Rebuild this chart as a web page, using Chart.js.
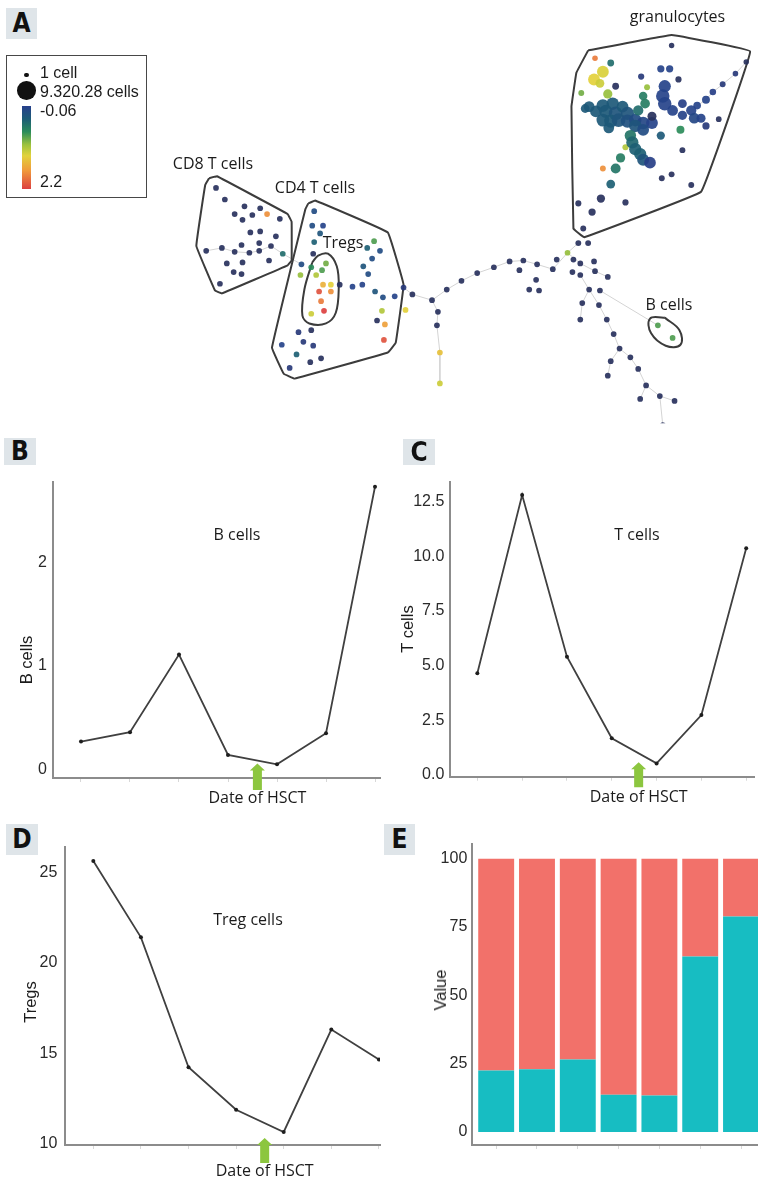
<!DOCTYPE html>
<html>
<head>
<meta charset="utf-8">
<script src="https://cdn.jsdelivr.net/npm/chart.js@4.4.1/dist/chart.umd.min.js"></script>
<style>
  html, body { margin: 0; padding: 0; background: #fff; overflow: hidden; }
  body { width: 758px; height: 1183px; position: relative; }
  canvas { position: absolute; }
  .t { position: absolute; white-space: nowrap; font-family: "Open Sans", sans-serif; font-size: 16px; line-height: 20px; color: #1b1b1b; }
  .ar { font-family: "Liberation Sans", Arial, sans-serif; }
  .tag { position: absolute; background: #dfe5e9; color: #111; text-align: center;
         font-family: "DejaVu Sans Condensed", "DejaVu Sans", sans-serif; font-stretch: condensed; font-weight: bold; font-size: 26px; }
  #legend { position: absolute; left: 6px; top: 55px; width: 139px; height: 141px; border: 1.5px solid #474747; }
  .dot { position: absolute; border-radius: 50%; background: #111; }
</style>
</head>
<body>
<canvas id="tree" width="758" height="430" style="left:0;top:0"></canvas>
<canvas id="bChart" width="385" height="345" style="left:0;top:466px"></canvas>
<canvas id="tChart" width="378" height="345" style="left:380px;top:466px"></canvas>
<canvas id="tregChart" width="385" height="353" style="left:0;top:830px"></canvas>
<canvas id="shareChart" width="386" height="330" style="left:380px;top:830px"></canvas>
<div id="legend"></div>

<script>
// ---- panels B-D: seven sampling visits, transplant between visit 4 and 5
const visits = [1, 2, 3, 4, 5, 6, 7];
const hsctVisit = 4.6;
const bCells = [0.27, 0.36, 1.11, 0.14, 0.05, 0.35, 2.73];
const tCells = [4.65, 12.8, 5.41, 1.68, 0.53, 2.74, 10.37];
const tregs = [25.65, 21.42, 14.22, 11.86, 10.63, 16.31, 14.65];
const bTicks = [0, 1, 2];
const tTicks = [0, 2.5, 5, 7.5, 10, 12.5];
const tregTicks = [10, 15, 20, 25];

// ---- panel E: stacked shares per sample
const samples = [1, 2, 3, 4, 5, 6, 7];
const tealShare = [22.5, 22.9, 26.5, 13.6, 13.3, 64.2, 78.9];
const redShare = [77.5, 77.1, 73.5, 86.4, 86.7, 35.8, 21.1];
const valueTicks = [0, 25, 50, 75, 100];

// ---- panel A: SPADE tree nodes [layout x, layout y, expression, cells]
const cd8Nodes = [
  [213,187,0,40],[222,199,0,40],[242,206,0,40],[258,208,0,40],[265,214,1.8,40],[232,214,0,40],
  [250,215,0,40],[278,219,0,40],[240,220,0,40],[248,233,0,40],[258,232,0,40],[274,237,0,40],
  [239,246,0,40],[257,244,0,40],[203,252,0,40],[219,249,0,40],[232,253,0,40],[247,254,0,40],
  [257,252,0,40],[269,247,0,40],[281,255,0.6,40],[267,262,0,40],[224,265,0,40],[240,264,0,40],
  [231,274,0,40],[239,276,0,40],[217,286,0,40]
];
const cd4Nodes = [
  [313,211,0.3,40],[311,226,0.3,40],[322,226,0.2,40],[313,243,0.5,40],[319,234,0.4,40],[312,255,0,40],
  [300,266,0.3,40],[310,269,0.8,40],[321,272,0.9,40],[325,265,1.0,40],[315,277,1.2,40],[322,287,1.6,40],
  [330,287,1.4,40],[318,294,2.1,40],[330,294,1.8,40],[320,304,1.9,40],[323,314,2.2,40],[310,317,1.3,40],
  [299,277,1.1,40],[339,287,0,40],[352,289,0.2,40],[362,287,0.2,40],[374,242,0.9,40],[367,249,0.5,40],
  [380,252,0.3,40],[372,260,0.3,40],[363,268,0.4,40],[368,276,0.3,40],[375,294,0.4,40],[383,300,0.3,40],
  [395,299,0.2,40],[404,290,0.1,40],[413,297,0,40],[406,313,1.4,40],[382,314,1.2,40],[377,324,0,40],
  [385,328,1.7,40],[384,344,2.1,40],[310,334,0,40],[297,336,0.1,40],[302,346,0.1,40],[280,349,0.2,40],
  [312,350,0.1,40],[295,359,0.5,40],[309,367,0,40],[320,363,0,40],[288,373,0.1,40]
];
const granNodes = [
  [677,40,0,20],[753,57,0,20],[742,69,0.1,30],[729,80,0.1,60],[719,88,0.15,150],[712,96,0.2,500],
  [703,102,0.2,400],[599,53,1.9,30],[615,58,0.6,200],[620,82,0,200],[585,89,1.0,60],[589,105,0.45,800],
  [646,72,0.1,100],[666,64,0.2,300],[675,64,0.2,300],[684,75,0,100],[652,83,1.1,60],[648,92,0.7,700],
  [725,116,0,40],[712,123,0.1,300],[686,127,0.8,500],[666,133,0.45,600],[688,148,0,60],
  [630,145,1.2,80],[607,167,1.8,60],[615,183,0.5,800],[605,198,0,600],[630,202,0,100],[582,203,0,80],
  [596,212,0,300],[587,229,0,60],[667,177,0,60],[677,173,0,60],[697,184,0,60],[582,244,0,60],[592,244,0,60],
  [607,67,1.35,2500],[598,75,1.4,2500],[604,79,1.3,800],[612,90,1.1,1000],
  [670,82,0.2,2800],[668,92,0.2,3800],[670,100,0.2,3800],[678,107,0.2,1800],[688,100,0.15,800],
  [697,107,0.2,1500],[688,112,0.2,1000],[700,115,0.25,1800],[707,115,0.2,900],
  [607,102,0.45,3200],[617,100,0.45,3000],[610,108,0.45,3500],[620,110,0.4,4000],[627,103,0.45,2500],
  [632,110,0.4,3500],[607,117,0.45,3200],[615,118,0.45,3600],[623,117,0.4,4000],[632,118,0.35,3500],
  [640,117,0.3,3000],[648,120,0.25,3000],[657,120,0.2,2500],[640,123,0.4,3000],[648,127,0.3,2500],
  [600,108,0.45,2500],[593,103,0.45,1800],[613,125,0.45,1800],[643,107,0.6,1500],[650,100,0.7,1200],
  [657,113,0,900],[635,133,0.65,2200],[637,140,0.55,2800],[640,147,0.5,2800],[645,152,0.5,2800],
  [648,158,0.4,2600],[655,161,0.15,2400],[625,156,0.7,1000],[620,167,0.65,1300]
];
const branchNodes = [
  [571,254,1.1,40],[560,261,0,40],[577,261,0,40],[584,265,0,40],[598,263,0,40],[526,262,0,40],
  [512,263,0,40],[540,266,0,40],[522,272,0,40],[556,271,0,40],[576,274,0,40],[584,277,0,40],
  [599,273,0,40],[612,279,0,40],[539,282,0,40],[532,292,0,40],[542,293,0,40],[496,269,0,40],
  [479,275,0,40],[463,283,0,40],[448,292,0,40],[433,303,0,40],[439,315,0,40],[438,329,0,40],
  [441,357,1.5,40],[441,389,1.3,40],[593,292,0,40],[604,293,0,40],[586,306,0,40],[603,308,0,40],
  [584,323,0,40],[611,323,0,40],[618,338,0,40],[624,353,0,40],[635,362,0,40],[615,366,0,40],
  [643,374,0,40],[612,381,0,40],[651,391,0,40],[645,405,0,40],[665,402,0,40],[680,407,0,40],
  [668,432,0,40]
];
const bCellNodes = [[663,329,0.9,40],[678,342,0.9,40]];

// cluster outlines and tree edges, same layout units
const cd8Outline = [[206,177],[214,175],[286,214],[290,222],[290,262],[286,267],[219,296],[212,293],[193,247],[202,184],[206,177]];
const cd4Outline = [[307,203],[314,200],[388,233],[404,287],[396,347],[388,357],[293,384],[282,379],[270,352],[304,209],[307,203]];
const tregOutline = [[311,264],[317,257],[327,255],[336,268],[338,290],[335,316],[325,327],[308,327],[301,319],[303,292],[311,264]];
const granOutline = [[592,45],[677,29],[757,46],[707,191],[588,238],[577,229],[575,103],[580,68],[592,45]];
const bOutline = [[670,321],[685,334],[686,349],[671,350],[656,337],[655,322],[670,321]];
const treeEdges = [
  [[404,290],[413,297],[433,303],[448,292],[463,283],[479,275],[496,269],[512,263],[526,262],[540,266],[556,271],[571,254],[582,244]],
  [[433,303],[439,315],[438,329],[441,357],[441,389]],
  [[571,254],[584,265],[599,273],[612,279]],
  [[584,277],[593,292],[603,308],[611,323],[618,338],[624,353],[635,362],[643,374],[651,391],[665,402],[668,432]],
  [[604,293],[663,329]],
  [[593,292],[586,306],[584,323]],
  [[624,353],[615,366],[612,381]],
  [[651,391],[645,405]],
  [[665,402],[680,407]],
  [[703,102],[712,96],[719,88],[729,80],[742,69],[753,57]],
  [[203,252],[219,249],[232,253],[247,254],[257,252],[269,247],[281,255],[300,266]]
];

const exprRange = [-0.06, 2.2];
const maxCells = 9320.28;
const exprStops = [[0,'#292c4c'],[0.1,'#27408c'],[0.24,'#1c5c76'],[0.38,'#2b8c5a'],[0.52,'#9cc23c'],[0.64,'#e2d23b'],[0.8,'#f09a3c'],[1,'#dc4040']];

function hex(c) { return [1, 3, 5].map(i => parseInt(c.slice(i, i + 2), 16)); }
function exprColor(v) {
  const f = Math.max(0, Math.min(1, (v - exprRange[0]) / (exprRange[1] - exprRange[0])));
  for (let i = 1; i < exprStops.length; i++) {
    if (f <= exprStops[i][0]) {
      const [f0, c0] = exprStops[i - 1], [f1, c1] = exprStops[i];
      const k = (f - f0) / (f1 - f0), a = hex(c0), b = hex(c1);
      return 'rgba(' + a.map((x, j) => Math.round(x + (b[j] - x) * k)).join(',') + ',0.92)';
    }
  }
  return exprStops[exprStops.length - 1][1];
}
function nodeRadius(cells) { return 2.4 + 6.8 * Math.sqrt(cells / maxCells); }

const axisFamily = '"Liberation Sans", Arial, sans-serif';
Chart.defaults.font.family = axisFamily;
Chart.defaults.color = '#2a2a2a';

// ---- panel A
const allNodes = [...cd8Nodes, ...cd4Nodes, ...granNodes, ...branchNodes, ...bCellNodes];
const pts = arr => arr.map(p => ({ x: p[0], y: p[1] }));
const outlines = [
  { pts: cd8Outline, tension: 0.05 }, { pts: cd4Outline, tension: 0.05 }, { pts: tregOutline, tension: 0.35 },
  { pts: granOutline, tension: 0.04 }, { pts: bOutline, tension: 0.4 }
];

new Chart(document.getElementById('tree'), {
  type: 'scatter',
  data: {
    datasets: [
      {
        data: pts(allNodes),
        pointRadius: allNodes.map(n => nodeRadius(n[3])),
        pointBackgroundColor: allNodes.map(n => exprColor(n[2])),
        pointBorderWidth: 0,
        order: 0
      },
      ...outlines.map(o => ({
        data: pts(o.pts), showLine: true, borderColor: '#3c3c3c', borderWidth: 2,
        pointRadius: 0, tension: o.tension, order: 1
      })),
      ...treeEdges.map(e => ({
        data: pts(e), showLine: true, borderColor: '#d4d4d4', borderWidth: 1, pointRadius: 0, order: 2
      }))
    ]
  },
  options: {
    responsive: false, animation: false, events: [],
    layout: { padding: 0 },
    plugins: { legend: { display: false }, tooltip: { enabled: false } },
    scales: {
      x: { type: 'linear', min: 0, max: 758, display: false },
      y: { type: 'linear', min: 0, max: 430, reverse: true, display: false }
    }
  }
});

// ---- transplant marker for B-D
const hsctMarker = {
  id: 'hsct',
  afterDraw(chart, args, o) {
    const { ctx, chartArea } = chart;
    const x = chart.scales.x.getPixelForValue(hsctVisit);
    const y0 = chartArea.bottom + o.top, y1 = chartArea.bottom + o.bottom;
    ctx.save();
    ctx.fillStyle = '#8cc63f';
    ctx.beginPath();
    ctx.moveTo(x, y0);
    ctx.lineTo(x + 7.5, y0 + 7);
    ctx.lineTo(x + 4.5, y0 + 7);
    ctx.lineTo(x + 4.5, y1);
    ctx.lineTo(x - 4.5, y1);
    ctx.lineTo(x - 4.5, y0 + 7);
    ctx.lineTo(x - 7.5, y0 + 7);
    ctx.closePath();
    ctx.fill();
    ctx.font = '16px "Open Sans"';
    ctx.fillStyle = '#1b1b1b';
    ctx.textAlign = 'center';
    ctx.textBaseline = 'middle';
    ctx.fillText('Date of HSCT', x, chartArea.bottom + o.text);
    ctx.restore();
  }
};

function lineChart(id, values, xr, yr, ticks, fmt, geo) {
  return new Chart(document.getElementById(id), {
    type: 'line',
    data: {
      datasets: [{
        data: visits.map((v, i) => ({ x: v, y: values[i] })),
        borderColor: '#404040', borderWidth: 1.8, tension: 0,
        pointRadius: 2, pointBackgroundColor: '#1e1e1e', pointBorderWidth: 0
      }]
    },
    options: {
      responsive: false, animation: false, events: [],
      layout: { padding: { top: geo.top, right: geo.right, left: 0, bottom: 0 } },
      plugins: { legend: { display: false }, tooltip: { enabled: false }, hsct: geo.hsct },
      scales: {
        x: {
          type: 'linear', min: xr[0], max: xr[1], offset: false,
          afterBuildTicks: s => { s.ticks = visits.map(v => ({ value: v })); },
          afterFit: s => { s.height = geo.xh; },
          ticks: { display: false },
          grid: { display: true, offset: false, drawOnChartArea: false, tickLength: 4, color: '#d8d8d8' },
          border: { display: true, color: '#8c8c8c', width: 2 }
        },
        y: {
          type: 'linear', min: yr[0], max: yr[1],
          afterBuildTicks: s => { s.ticks = ticks.map(v => ({ value: v })); },
          afterFit: s => { s.width = geo.yw; },
          ticks: { padding: geo.pad, color: '#2a2a2a', font: { size: 16 }, callback: fmt },
          grid: { display: false, drawTicks: false },
          border: { display: true, color: '#8c8c8c', width: 2 }
        }
      }
    },
    plugins: [hsctMarker]
  });
}

lineChart('bChart', bCells, [0.4286, 7.102], [-0.082, 2.78], bTicks, v => String(v),
  { top: 10, right: 5, xh: 33, yw: 53, pad: 6, hsct: { top: -14.5, bottom: 12, text: 20.5 } });
lineChart('tChart', tCells, [0.39, 7.174], [-0.078, 13.41], tTicks, v => v.toFixed(1),
  { top: 15.7, right: 0, xh: 34.3, yw: 70, pad: 5.7, hsct: { top: -14.5, bottom: 10.5, text: 21 } });
lineChart('tregChart', tregs, [0.405, 7.023], [9.908, 26.41], tregTicks, v => String(v),
  { top: 10, right: 5, xh: 38, yw: 65, pad: 7.7, hsct: { top: -7, bottom: 18, text: 26 } });

// ---- panel E
new Chart(document.getElementById('shareChart'), {
  type: 'bar',
  data: {
    labels: samples,
    datasets: [
      { data: tealShare, backgroundColor: '#17bdc2', borderWidth: 0 },
      { data: redShare, backgroundColor: '#f2716a', borderWidth: 0 }
    ]
  },
  options: {
    responsive: false, animation: false, events: [],
    layout: { padding: { top: 10, right: 0.5, left: 0, bottom: 0 } },
    datasets: { bar: { categoryPercentage: 1, barPercentage: 0.88 } },
    plugins: { legend: { display: false }, tooltip: { enabled: false } },
    scales: {
      x: {
        type: 'linear', stacked: true, min: 0.4, max: 7.6, offset: false,
        afterBuildTicks: s => { s.ticks = samples.map(v => ({ value: v })); },
        afterFit: s => { s.height = 15; },
        ticks: { display: false },
        grid: { display: true, offset: false, drawOnChartArea: false, tickLength: 4, color: '#d8d8d8' },
        border: { display: true, color: '#8c8c8c', width: 2 }
      },
      y: {
        type: 'linear', stacked: true, min: -4.8, max: 105.4,
        afterBuildTicks: s => { s.ticks = valueTicks.map(v => ({ value: v })); },
        afterFit: s => { s.width = 91.7; },
        ticks: { padding: 4.4, color: '#2a2a2a', font: { size: 16 } },
        grid: { display: false, drawTicks: false },
        border: { display: true, color: '#8c8c8c', width: 2 }
      }
    }
  }
});

// ---- text, panel tags and the tree legend
function txt(s, x, y, opts = {}) {
  const d = document.createElement('div');
  d.className = 't' + (opts.cls ? ' ' + opts.cls : '');
  d.textContent = s;
  d.style.left = x + 'px';
  d.style.top = y + 'px';
  if (opts.size) d.style.fontSize = opts.size + 'px';
  if (opts.family) d.style.fontFamily = opts.family;
  let tf = opts.left ? 'translateY(-50%)' : 'translate(-50%,-50%)';
  if (opts.rot) tf += ' rotate(-90deg)';
  d.style.transform = tf;
  document.body.appendChild(d);
}
function tag(s, x, y, w, h) {
  const d = document.createElement('div');
  d.className = 'tag';
  d.textContent = s;
  Object.assign(d.style, { left: x + 'px', top: y + 'px', width: w + 'px', height: h + 'px', lineHeight: h + 'px' });
  document.body.appendChild(d);
}

tag('A', 6, 8, 31, 31);
tag('B', 4, 438, 32, 27);
tag('C', 403, 439, 32, 26);
tag('D', 6, 824, 32, 31);
tag('E', 384, 824, 31, 31);

txt('CD8 T cells', 213, 163);
txt('CD4 T cells', 315, 187);
txt('Tregs', 343, 242);
txt('granulocytes', 677.5, 16);
txt('B cells', 669, 304);

txt('B cells', 237, 534);
txt('T cells', 637, 534);
txt('Treg cells', 248, 919);
const axisTitle = { rot: true, family: axisFamily, size: 16.5 };
txt('B cells', 26, 660, axisTitle);
txt('T cells', 407, 629, axisTitle);
txt('Tregs', 30, 1002, axisTitle);
txt('Value', 439.5, 990, axisTitle);

function dot(cx, cy, r) {
  const d = document.createElement('div');
  d.className = 'dot';
  Object.assign(d.style, { left: (cx - r) + 'px', top: (cy - r) + 'px', width: 2 * r + 'px', height: 2 * r + 'px' });
  document.body.appendChild(d);
}
dot(26.7, 75, nodeRadius(1));
dot(26.7, 90.7, 9.3);
const bar = document.createElement('div');
Object.assign(bar.style, {
  position: 'absolute', left: '22px', top: '106px', width: '9px', height: '83px',
  background: 'linear-gradient(to bottom,' + exprStops.slice(1).map(s => s[1] + ' ' + ((s[0] - 0.1) / 0.9 * 100).toFixed(1) + '%').join(',') + ')'
});
document.body.appendChild(bar);
txt('1 cell', 40, 73.3, { left: true, cls: 'ar' });
txt('9.320.28 cells', 40, 91.7, { left: true, cls: 'ar' });
txt('-0.06', 40, 110.7, { left: true, cls: 'ar' });
txt('2.2', 40, 182, { left: true, cls: 'ar' });
</script>
</body>
</html>
